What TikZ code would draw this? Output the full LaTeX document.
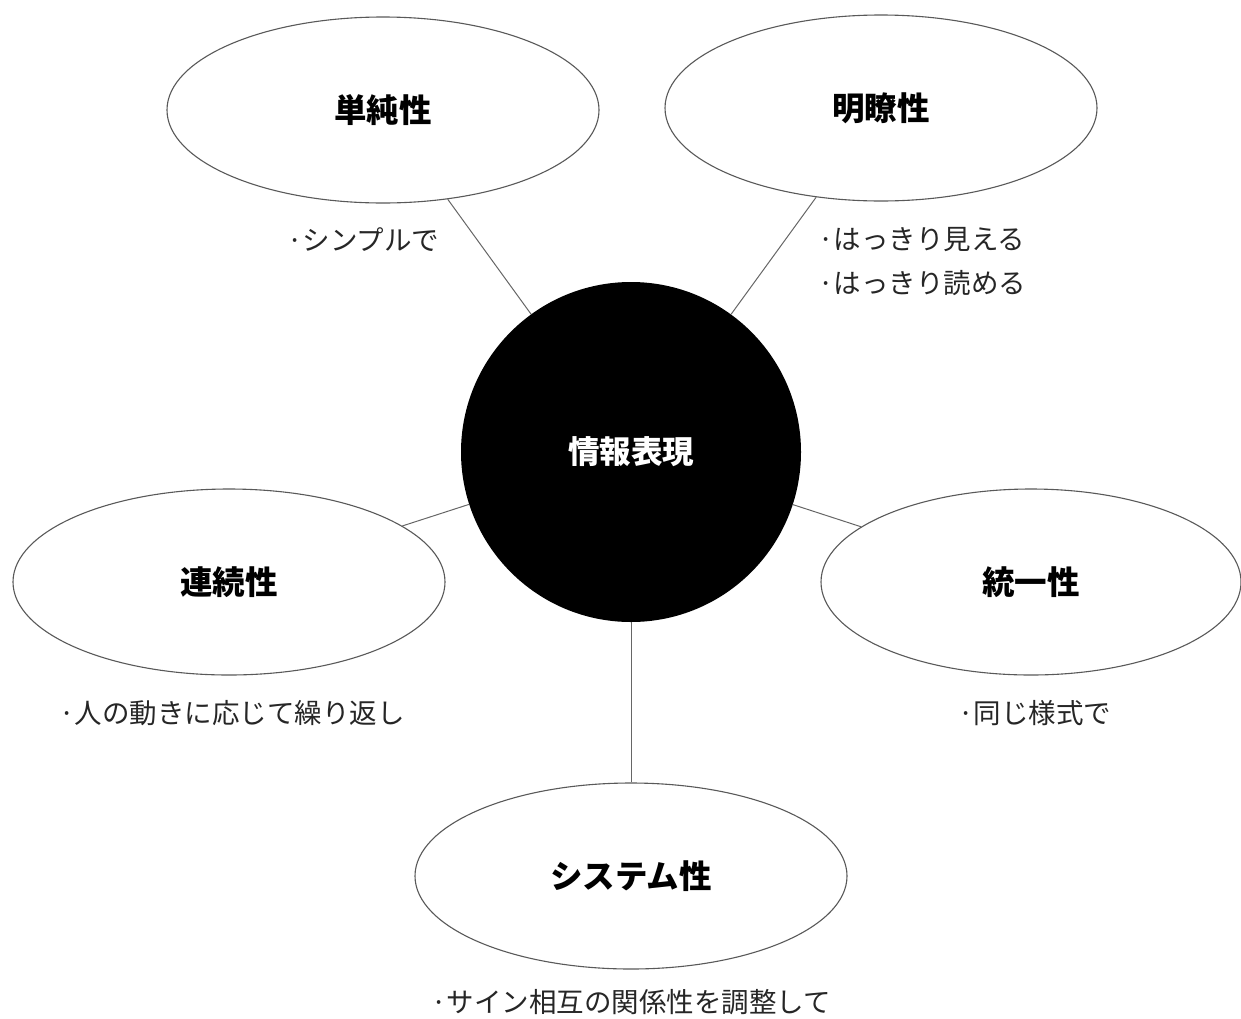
\documentclass[tikz,border=0pt]{standalone}
\usepackage{fontspec}
\usetikzlibrary{shapes.geometric}
\setmainfont{Noto Sans CJK JP}
\newfontfamily\jp{Noto Sans CJK JP}
\begin{document}
\begin{tikzpicture}[x=1pt,y=-1pt,
  bubble/.style={draw=black!65,line width=1.1pt,fill=white,ellipse,minimum width=432pt,minimum height=186pt,inner sep=0pt,font=\jp\bfseries\fontsize{32.5}{38}\selectfont},
  hub/.style={circle,fill=black,minimum size=340pt,inner sep=0pt,text=white,font=\jp\bfseries\fontsize{31.5}{38}\selectfont},
  note/.style={inner sep=0pt,font=\jp\fontsize{27.5}{44}\selectfont,text=black!85,align=left},
  link/.style={draw=black!60,line width=1pt}]
\useasboundingbox (0,0) rectangle (1241,1018);
\node[hub] (c) at (631,452) {情報表現};
\node[bubble] (a) at (383,110) {単純性};
\node[bubble] (b) at (881,108) {明瞭性};
\node[bubble] (l) at (229,582) {連続性};
\node[bubble,minimum width=420pt] (r) at (1031,582) {統一性};
\node[bubble] (s) at (631,876) {システム性};
\draw[link] (a) -- (c);
\draw[link] (b) -- (c);
\draw[link] (l) -- (c);
\draw[link] (r) -- (c);
\draw[link] (s) -- (c);
\node[note,anchor=west] (na) at (287,240) {·シンプルで};
\node[note,anchor=west] (nb) at (818,262) {·はっきり見える\\·はっきり読める};
\node[note] (nl) at (232,713) {·人の動きに応じて繰り返し};
\node[note] (nr) at (1035,713) {·同じ様式で};
\node[note] (ns) at (631,1002) {·サイン相互の関係性を調整して};
\end{tikzpicture}
\end{document}
